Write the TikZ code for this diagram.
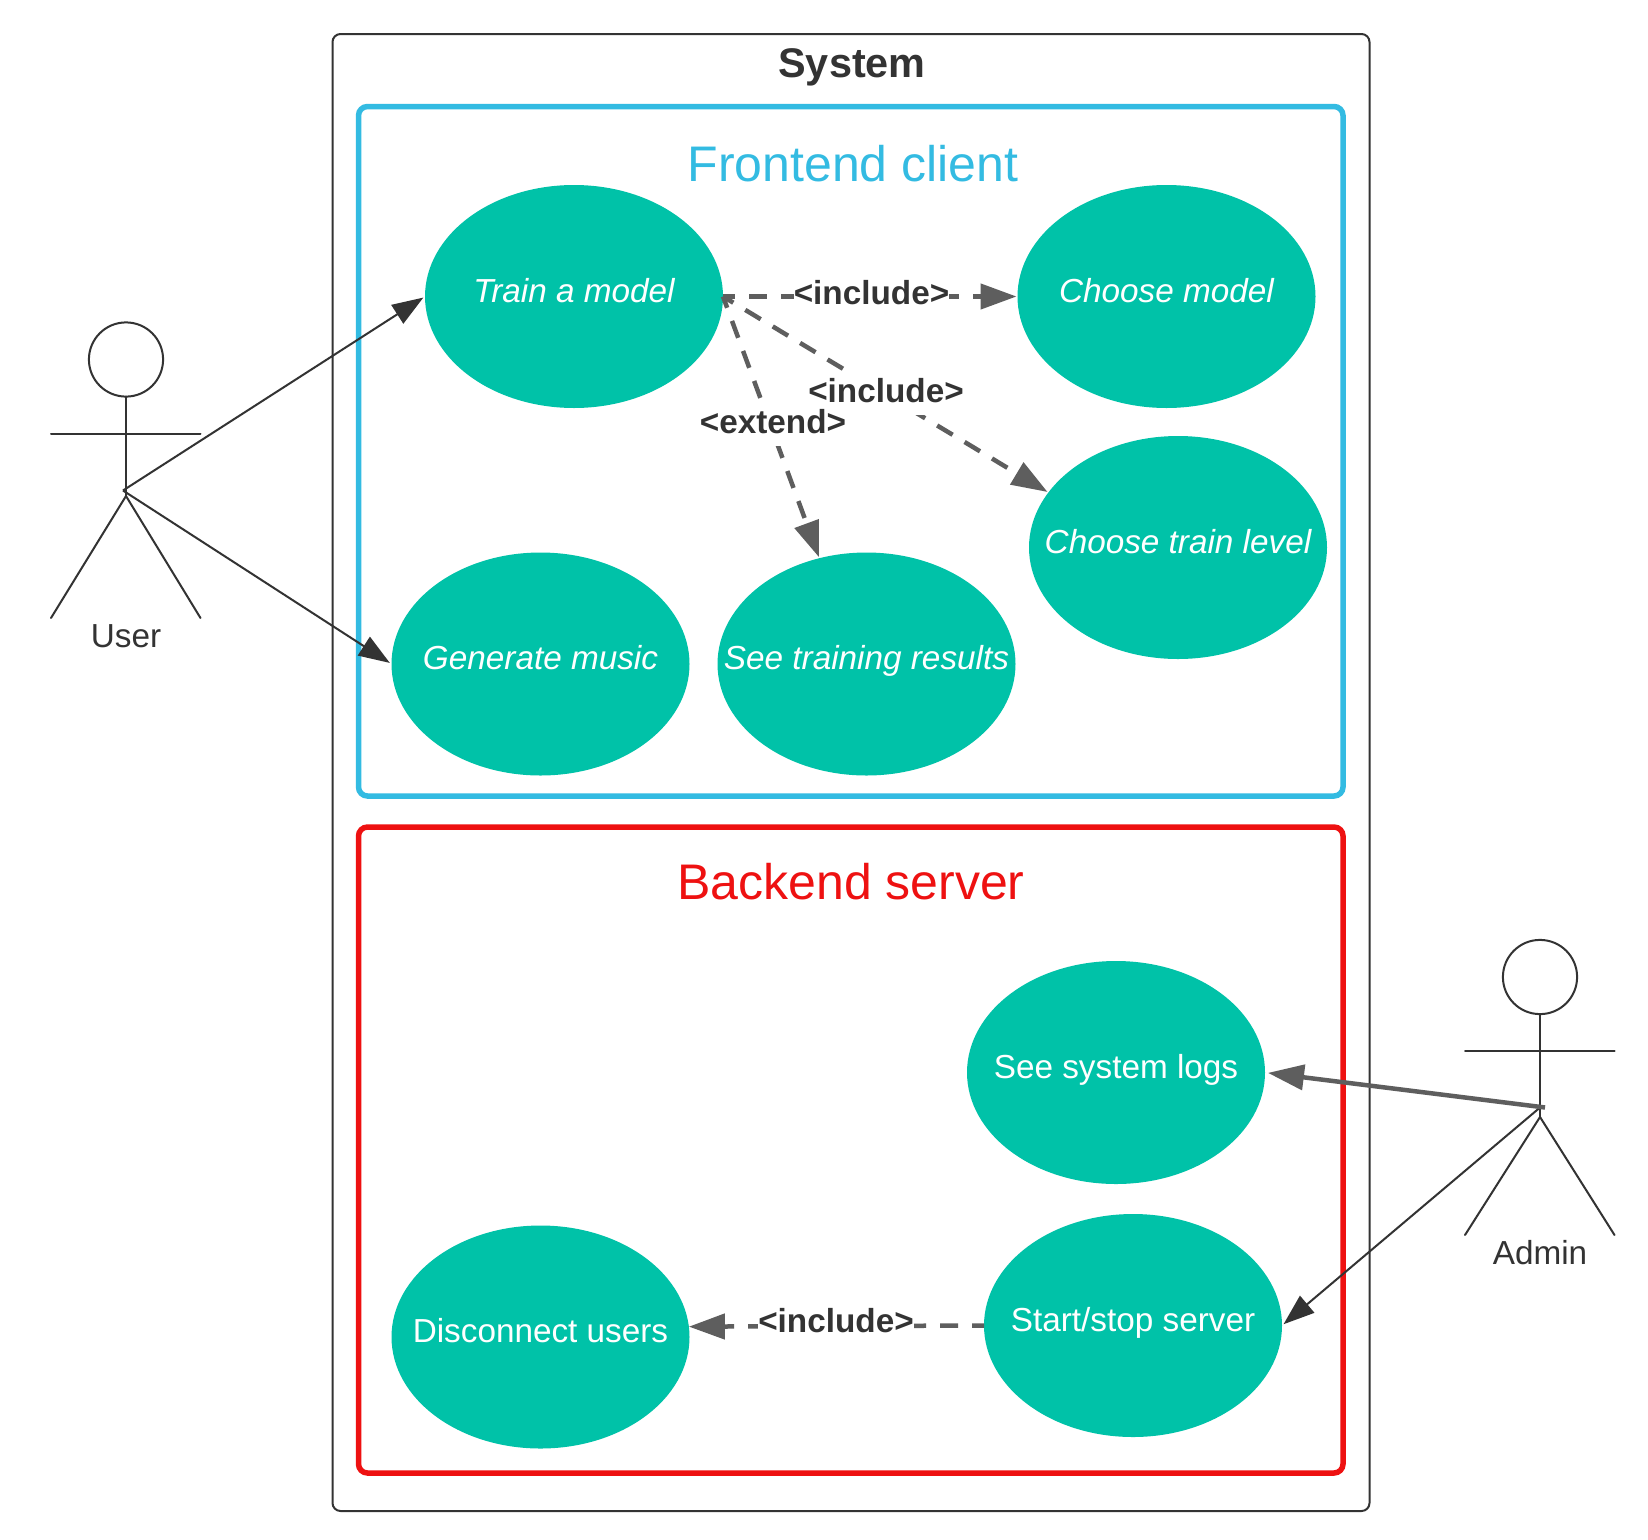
\documentclass[tikz,border=0pt]{standalone}
\usepackage{fontspec}
\setmainfont{Liberation Sans}
\usetikzlibrary{shapes.geometric,arrows.meta}
\definecolor{teal1}{HTML}{00C2A8}
\definecolor{blue1}{HTML}{33BBE2}
\definecolor{red1}{HTML}{EE1111}
\definecolor{ink}{HTML}{333333}
\definecolor{greyline}{HTML}{5E5E5E}
\tikzset{
  usecase/.style={ellipse,fill=teal1,minimum width=298pt,minimum height=223pt,inner sep=0pt,outer sep=0pt},
  uctext/.style={anchor=base,text=white,inner sep=0pt,font=\fontsize{33.3}{38}\selectfont},
  ucital/.style={uctext,font=\fontsize{33.3}{38}\selectfont\itshape},
  frame/.style={rounded corners=9pt,line width=5.5pt},
  titlefont/.style={anchor=base,inner sep=0pt,font=\fontsize{50}{58}\selectfont},
  actorline/.style={draw=ink,line width=2pt,line cap=round},
  actorlabel/.style={anchor=base,inner sep=0pt,text=ink,font=\fontsize{33.3}{38}\selectfont},
  assoc/.style={draw=ink,line width=2pt,shorten >=2pt,-{Triangle[length=31pt,width=22pt]},fill=none},
  greyassoc/.style={draw=greyline,line width=4.5pt,shorten >=1pt,-{Triangle[length=36pt,width=25pt]}},
  dep/.style={greyassoc,dash pattern=on 18pt off 14pt,dash phase=6pt},
  deplabel/.style={anchor=base,fill=white,inner sep=0pt,text=ink,text height=28pt,text depth=13pt,font=\fontsize{33.3}{38}\selectfont\bfseries},
}
\begin{document}
\begin{tikzpicture}[x=1pt,y=-1pt]
\useasboundingbox (0,0) rectangle (1648,1539);
\fill[white] (0,0) rectangle (1648,1539);
% containers
\draw[draw=ink,line width=2pt,rounded corners=8pt] (332.5,34) rectangle (1369.5,1511);
\node[anchor=base,inner sep=0pt,text=ink,font=\fontsize{41.4}{48}\selectfont\bfseries] (systemT) at (852,77) {System};
\draw[frame,draw=blue1] (358.5,106.5) rectangle (1343,796);
\node[titlefont,text=blue1] (frontT) at (853,181) {Frontend client};
\draw[frame,draw=red1] (358.5,827) rectangle (1343,1473);
\node[titlefont,text=red1] (backT) at (851,899) {Backend server};
% use cases
\node[usecase] (train) at (574,296.5) {};
\node[usecase] (choose) at (1166.5,296.5) {};
\node[usecase] (level) at (1178,547.5) {};
\node[usecase] (gen) at (540.5,664) {};
\node[usecase] (results) at (866.5,664) {};
\node[usecase] (logs) at (1116,1072.5) {};
\node[usecase] (stop) at (1133,1325.5) {};
\node[usecase] (disc) at (540.5,1337) {};
\node[ucital] (trainT) at ([yshift=-5.5pt]train.center) {Train a model};
\node[ucital] (chooseT) at ([yshift=-5.5pt]choose.center) {Choose model};
\node[ucital] (levelT) at ([yshift=-5.5pt]level.center) {Choose train level};
\node[ucital] (genT) at ([yshift=-5.5pt]gen.center) {Generate music};
\node[ucital] (resultsT) at ([yshift=-5.5pt]results.center) {See training results};
\node[uctext] (logsT) at ([yshift=-5.5pt]logs.center) {See system logs};
\node[uctext] (stopT) at ([yshift=-5.5pt]stop.center) {Start/stop server};
\node[uctext] (discT) at ([yshift=-5.5pt]disc.center) {Disconnect users};
% actor User
\node[circle,draw=ink,line width=2pt,minimum size=74.2pt,inner sep=0pt,outer sep=0pt] (userHead) at (126,359.5) {};
\coordinate (userHip) at (126,496);
\coordinate (userArmL) at (51,433.5);
\coordinate (userArmR) at (200.5,433.5);
\coordinate (userFootL) at (51,618);
\coordinate (userFootR) at (200.5,618);
\coordinate (userGrip) at (123,490.5);
\draw[actorline] (userHead.south) -- (userHip);
\draw[actorline] (userArmL) -- (userArmR);
\draw[actorline] (userFootL) -- (userHip) -- (userFootR);
\node[actorlabel] (userT) at (126,647) {User};
% actor Admin
\node[circle,draw=ink,line width=2pt,minimum size=74.2pt,inner sep=0pt,outer sep=0pt] (adminHead) at (1540,977) {};
\coordinate (adminHip) at (1540,1117);
\coordinate (adminArmL) at (1465,1050.5);
\coordinate (adminArmR) at (1614.5,1050.5);
\coordinate (adminFootL) at (1465,1235);
\coordinate (adminFootR) at (1614.5,1235);
\coordinate (adminGrip) at (1540,1107.5);
\coordinate (adminCap) at (1545,1107.5);
\draw[actorline] (adminHead.south) -- (adminHip);
\draw[actorline] (adminArmL) -- (adminArmR);
\draw[actorline] (adminFootL) -- (adminHip) -- (adminFootR);
\node[actorlabel] (adminT) at (1540,1264) {Admin};
% connectors
\draw[assoc] (userGrip) -- (train.west);
\draw[assoc] (userGrip) -- (gen.west);
\draw[assoc] (adminGrip) -- (stop.east);
\draw[greyassoc,shorten >=3pt] (adminCap) -- (logs.east);
\draw[dep] (train.east) -- (choose.west);
\draw[dep] (train.east) -- (level.157.5);
\draw[dep] (train.east) -- (results.114.3);
\draw[dep,shorten >=0pt] (stop.west) -- (disc.4.2);
% connector labels
\node[deplabel] (incA) at (871.5,304) {<include>};
\node[deplabel] (incB) at (886,402) {<include>};
\node[deplabel] (ext) at (773,433) {<extend>};
\node[deplabel] (incC) at (836,1332) {<include>};
\end{tikzpicture}
\end{document}
